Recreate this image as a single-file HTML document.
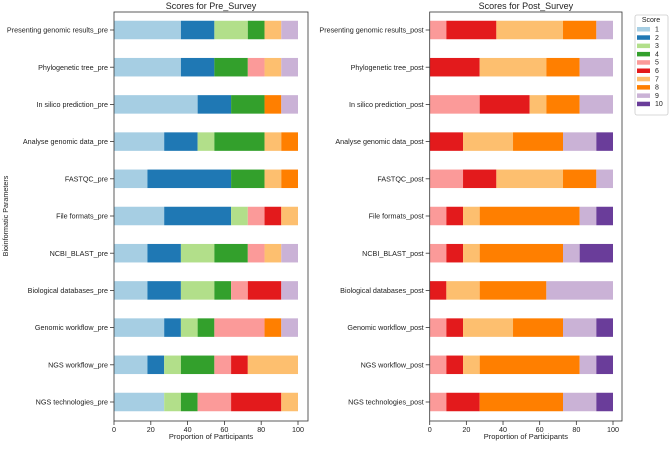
<!DOCTYPE html>
<html><head><meta charset="utf-8"><style>
body{margin:0;background:#fff;}
svg text{font-family:"Liberation Sans","DejaVu Sans",sans-serif;fill:#222;}
</style></head><body>
<svg id="chart" width="669" height="444" viewBox="0 0 669 444" xmlns="http://www.w3.org/2000/svg"></svg>
<script>
const colors=["#a6cee3","#1f78b4","#b2df8a","#33a02c","#fb9a99","#e31a1c","#fdbf6f","#ff7f00","#cab2d6","#6a3d9a"];
const scores=["1","2","3","4","5","6","7","8","9","10"];
const preCategories=["Presenting genomic results_pre","Phylogenetic tree_pre","In silico prediction_pre","Analyse genomic data_pre","FASTQC_pre","File formats_pre","NCBI_BLAST_pre","Biological databases_pre","Genomic workflow_pre","NGS workflow_pre","NGS technologies_pre"];
const postCategories=["Presenting genomic results_post","Phylogenetic tree_post","In silico prediction_post","Analyse genomic data_post","FASTQC_post","File formats_post","NCBI_BLAST_post","Biological databases_post","Genomic workflow_post","NGS workflow_post","NGS technologies_post"];
// counts per score (1..10), out of 11 participants
const preCounts=[[4,2,2,1,0,0,1,0,1,0],[4,2,0,2,1,0,1,0,1,0],[5,2,0,2,0,0,0,1,1,0],[3,2,1,3,0,0,1,1,0,0],[2,5,0,2,0,0,1,1,0,0],[3,4,1,0,1,1,1,0,0,0],[2,2,2,2,1,0,1,0,1,0],[2,2,2,1,1,2,0,0,1,0],[3,1,1,1,3,0,0,1,1,0],[2,1,1,2,1,1,3,0,0,0],[3,0,1,1,2,3,1,0,0,0]];
const postCounts=[[0,0,0,0,1,3,4,2,1,0],[0,0,0,0,0,3,4,2,2,0],[0,0,0,0,3,3,1,2,2,0],[0,0,0,0,0,2,3,3,2,1],[0,0,0,0,2,2,4,2,1,0],[0,0,0,0,1,1,1,6,1,1],[0,0,0,0,1,1,1,5,1,2],[0,0,0,0,0,1,2,4,4,0],[0,0,0,0,1,1,3,3,2,1],[0,0,0,0,1,1,1,6,1,1],[0,0,0,0,1,2,0,5,2,1]];
const xTicks=[0,20,40,60,80,100];
const NS="http://www.w3.org/2000/svg";
const svg=document.getElementById('chart');
function mk(t,a,p){const e=document.createElementNS(NS,t);for(const k in a)e.setAttribute(k,a[k]);(p||svg).appendChild(e);return e;}
function panel(x0,x100,right,cats,counts,title,key){
  const top=12,bottom=421;
  const g=mk('g',{});
  
  
  const xs=v=>x0+(x100-x0)*v/100;
  const y0=30,dy=37.2,bh=18.5;
  const ys=i=>y0+i*dy;
  cats.forEach((c,i)=>{
    const tot=counts[i].reduce((a,b)=>a+b,0);
    let acc=0;
    counts[i].forEach((n,s)=>{
      if(!n)return;
      const v0=acc/tot*100;acc+=n;const v1=acc/tot*100;
      const r=mk('rect',{x:xs(v0),y:ys(i)-bh/2,width:xs(v1)-xs(v0),height:bh,fill:colors[s]},g);
      
      
    });
    mk('line',{x1:x0-4,x2:x0,y1:ys(i),y2:ys(i),stroke:'#333','stroke-width':0.8},g);
    const t=mk('text',{x:x0-6,y:ys(i)+2.6,'text-anchor':'end','font-size':7.2},g);
    t.textContent=c;
    
    
  });
  xTicks.forEach(v=>{
    mk('line',{x1:xs(v),x2:xs(v),y1:bottom,y2:bottom+4,stroke:'#333','stroke-width':0.8},g);
    const t=mk('text',{x:xs(v),y:bottom+11,'text-anchor':'middle','font-size':7.2},g);
    t.textContent=v;
    
    
  });
  const f=mk('rect',{x:x0,y:top,width:right-x0,height:bottom-top,fill:'none',stroke:'#333','stroke-width':0.8},g);
  
  
  const tt=mk('text',{x:(x0+right)/2,y:9,'text-anchor':'middle','font-size':9},g);
  tt.textContent=title;
  
  
  const xl=mk('text',{x:(x0+right)/2,y:439,'text-anchor':'middle','font-size':7.5},g);
  xl.textContent='Proportion of Participants';
  
  
}
panel(114,298,308,preCategories,preCounts,'Scores for Pre_Survey','pre');
panel(429.7,613,622,postCategories,postCounts,'Scores for Post_Survey','post');
const yt=mk('text',{x:8,y:216,'text-anchor':'middle','font-size':7.2,transform:'rotate(-90 8 216)'});
yt.textContent='Bioinformatic Parameters';


const lg=mk('g',{});


mk('rect',{x:635,y:15,width:33,height:100,fill:'#fff',stroke:'#ccc','stroke-width':0.8,rx:2},lg);
const lt=mk('text',{x:651,y:22,'text-anchor':'middle','font-size':7},lg);
lt.textContent='Score';
scores.forEach((s,i)=>{
  const y=29+i*8.3;
  const e=mk('g',{},lg);
  
  
  mk('rect',{x:637,y:y-2,width:13,height:4.5,fill:colors[i]},e);
  const t=mk('text',{x:655,y:y+2.5,'font-size':7},e);
  t.textContent=s;
});
</script>
</body></html>
